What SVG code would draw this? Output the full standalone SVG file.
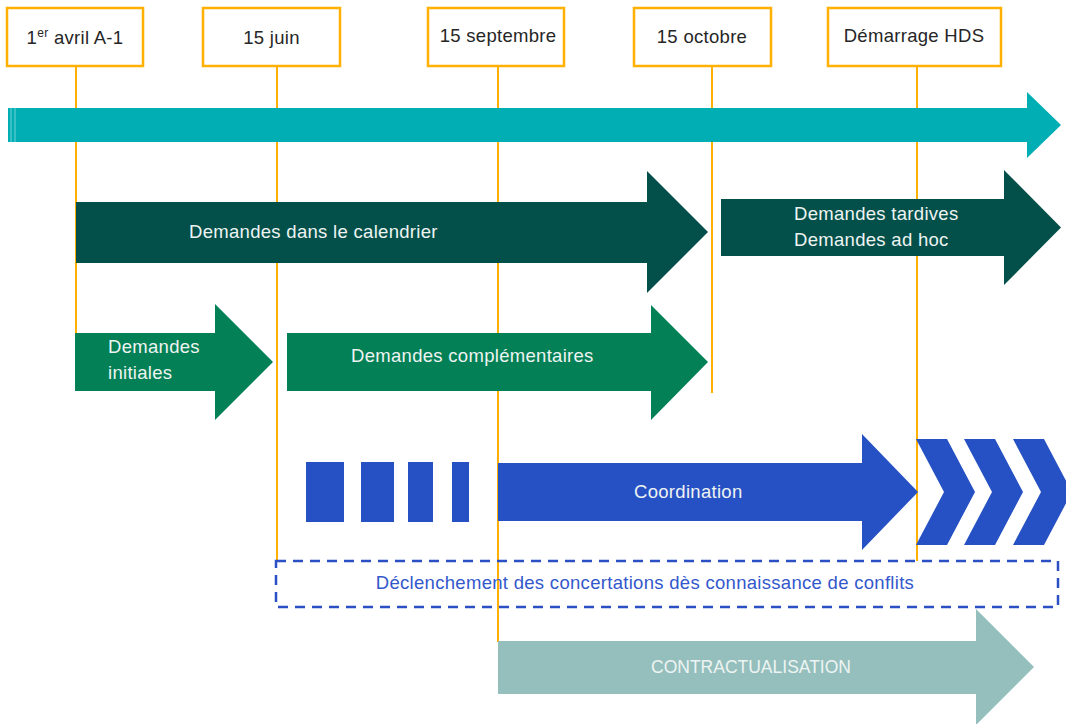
<svg xmlns="http://www.w3.org/2000/svg" width="1066" height="724" viewBox="0 0 1066 724">
<style>
  text { font-family: "Liberation Sans", Arial, sans-serif; }
  .date rect { fill: #ffffff; stroke: #FFB000; stroke-width: 2.5; }
  .date text { font-size: 18.5px; letter-spacing: 0.3px; fill: #262626; text-anchor: middle; }
  .vline { stroke: #FFB000; stroke-width: 2; fill: none; }
  .lbl { font-size: 18.5px; letter-spacing: 0.3px; fill: #EEF4F2; }
  .teal { fill: #00AEB4; }
  .dkgreen { fill: #03504A; }
  .green { fill: #038055; }
  .blue { fill: #2651C4; }
  .ltteal { fill: #94BFBD; }
</style>
<rect width="1066" height="724" fill="#ffffff"/>

<g id="connectors">
  <line class="vline" x1="76" y1="66" x2="76" y2="334"/>
  <line class="vline" x1="277" y1="66" x2="277" y2="561"/>
  <line class="vline" x1="498" y1="66" x2="498" y2="642"/>
  <line class="vline" x1="712" y1="66" x2="712" y2="393"/>
  <line class="vline" x1="917" y1="66" x2="917" y2="561"/>
</g>

<g id="date-1avril" class="date">
  <rect x="7" y="8" width="136" height="58"/>
  <text x="75" y="44">1<tspan font-size="12" dy="-7">er</tspan><tspan dy="7"> avril A-1</tspan></text>
</g>
<g id="date-15juin" class="date">
  <rect x="203" y="8" width="137" height="58"/>
  <text x="271.5" y="44">15 juin</text>
</g>
<g id="date-15septembre" class="date">
  <rect x="428" y="8" width="136" height="58"/>
  <text x="498" y="42">15 septembre</text>
</g>
<g id="date-15octobre" class="date">
  <rect x="634" y="8" width="137" height="58"/>
  <text x="702" y="43">15 octobre</text>
</g>
<g id="date-hds" class="date">
  <rect x="828" y="8" width="173" height="58"/>
  <text x="914" y="42">Démarrage HDS</text>
</g>

<g id="timeline">
  <polygon class="teal" points="8,108 1027,108 1027,92 1061,125 1027,158 1027,142 8,142"/>
  <line x1="11" y1="108" x2="11" y2="142" stroke="#ffffff" stroke-opacity="0.45" stroke-width="1"/>
  <line x1="15" y1="108" x2="15" y2="142" stroke="#ffffff" stroke-opacity="0.45" stroke-width="1"/>
</g>

<g id="demandes-calendrier">
  <polygon class="dkgreen" points="76,202 647,202 647,171 708,232 647,293 647,263 76,263"/>
  <text class="lbl" x="189" y="238">Demandes dans le calendrier</text>
</g>

<g id="demandes-tardives">
  <polygon class="dkgreen" points="721,199 1004,199 1004,170 1061,227.5 1004,285 1004,256 721,256"/>
  <text class="lbl" x="794" y="220">Demandes tardives</text>
  <text class="lbl" x="794" y="246">Demandes ad hoc</text>
</g>

<g id="demandes-initiales">
  <polygon class="green" points="75,333 215,333 215,304 273,362 215,420 215,391 75,391"/>
  <text class="lbl" x="108" y="353">Demandes</text>
  <text class="lbl" x="108" y="379">initiales</text>
</g>

<g id="demandes-complementaires">
  <polygon class="green" points="287,333 651,333 651,305 708,362 651,420 651,391 287,391"/>
  <text class="lbl" x="351" y="362">Demandes complémentaires</text>
</g>

<g id="coordination">
  <rect class="blue" x="306" y="462" width="38" height="60"/>
  <rect class="blue" x="361" y="462" width="33" height="60"/>
  <rect class="blue" x="408" y="462" width="25" height="60"/>
  <rect class="blue" x="452" y="462" width="17" height="60"/>
  <polygon class="blue" points="498,463 862,463 862,434 918,492 862,550 862,521 498,521"/>
  <text class="lbl" x="634" y="498">Coordination</text>
  <polygon class="blue" points="916,439 947,439 975,492 947,545 916,545 944,492"/>
  <polygon class="blue" points="964,439 995,439 1023,492 995,545 964,545 992,492"/>
  <polygon class="blue" points="1013,439 1044,439 1072,492 1044,545 1013,545 1041,492"/>
</g>

<g id="concertations">
  <rect x="276" y="561" width="782" height="46" fill="none" stroke="#2B50C6" stroke-width="2.5" stroke-dasharray="10 7"/>
  <text x="645" y="589" font-size="18.5" letter-spacing="0.3" fill="#3358CC" text-anchor="middle">Déclenchement des concertations dès connaissance de conflits</text>
</g>

<g id="contractualisation">
  <polygon class="ltteal" points="498,641 976,641 976,609 1034,667 976,725 976,694 498,694"/>
  <text x="751" y="673" font-size="17.5" fill="#EEF4F2" text-anchor="middle">CONTRACTUALISATION</text>
</g>
</svg>
